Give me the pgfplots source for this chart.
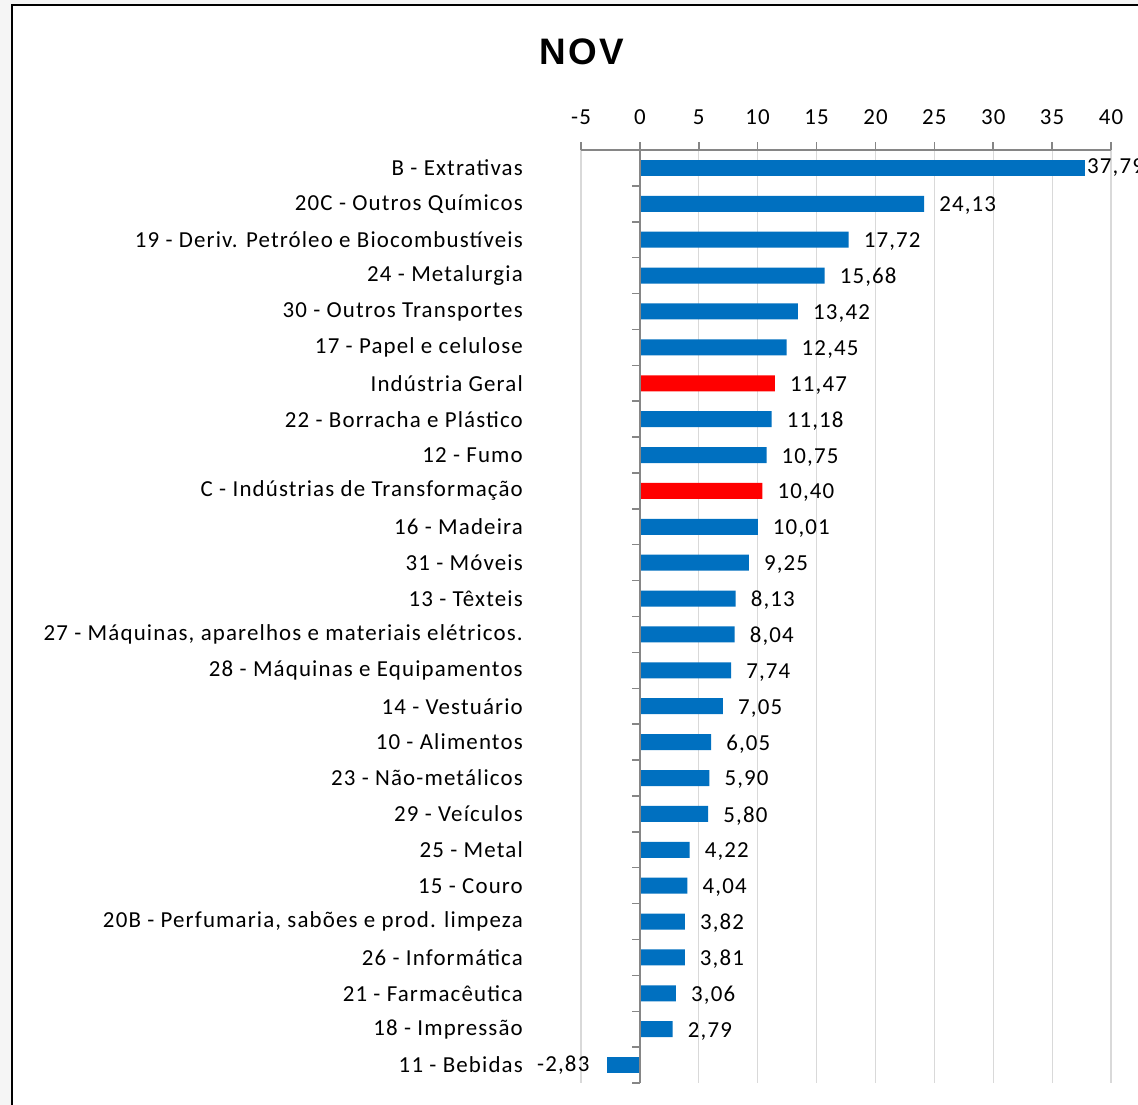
\documentclass[border=0pt]{standalone}
\usepackage{fontspec}
\setmainfont{Carlito}
\newfontfamily\titlefont{Liberation Sans}[LetterSpace=7]
\usepackage{pgfplots}
\usepackage{pgfplotstable}
\pgfplotsset{compat=1.18}
\definecolor{barblue}{HTML}{0070C0}
\definecolor{barred}{HTML}{FF0000}
\definecolor{axgray}{HTML}{868686}
\definecolor{gridgray}{HTML}{D9D9D9}

\pgfplotstableread{
y x lab
1 24.13 24,13
2 17.72 17,72
3 15.68 15,68
4 13.42 13,42
5 12.45 12,45
7 11.18 11,18
8 10.75 10,75
10 10.01 10,01
11 9.25 9,25
12 8.13 8,13
13 8.04 8,04
14 7.74 7,74
15 7.05 7,05
16 6.05 6,05
17 5.90 5,90
18 5.80 5,80
19 4.22 4,22
20 4.04 4,04
21 3.82 3,82
22 3.81 3,81
23 3.06 3,06
24 2.79 2,79
}\bluedata

\pgfplotstableread{
y x lab
6 11.47 11,47
9 10.40 10,40
}\reddata

\pgfplotstableread{
y x lab
0 37.79 37,79
}\firstdata

\pgfplotstableread{
y x lab
25 -2.83 -2,83
}\lastdata

\newcommand{\lblfont}{\fontsize{23}{27}\selectfont\addfontfeatures{LetterSpace=5}}

\begin{document}
\begin{tikzpicture}
\path[use as bounding box] (0,0) rectangle (1138bp,-1105bp);
\begin{scope}
\clip (0,0) rectangle (1138bp,-1105bp);
\fill[black!4] (0,0) rectangle (1138bp,-1105bp);
\draw[fill=white, line width=2bp] (12bp,-5bp) rectangle (1170bp,-1140bp);
\node[font=\titlefont\fontsize{37}{42}\selectfont\bfseries] at (582bp,-52bp) {NOV};
\begin{axis}[
  at={(581bp,-150bp)}, anchor=north west,
  scale only axis, width=530bp, height=933bp,
  xmin=-5, xmax=40, ymin=-0.5, ymax=25.5, y dir=reverse,
  axis x line*=top,
  axis y line*=left,
  y axis line style={draw=none},
  x axis line style={axgray, line width=1.5bp},
  xtick={-5,0,...,40},
  xtick style={axgray, line width=1.5bp},
  tick align=outside,
  major tick length=8bp,
  xmajorgrids,
  grid style={gridgray, line width=1.2bp},
  xticklabel style={font=\lblfont, inner sep=0pt, yshift=17bp},
  /pgf/number format/assume math mode=true,
  ytick={0,...,25},
  ytick style={draw=none},
  yticklabels={
    B - Extrativas,
    20C - Outros Químicos,
    19 - Deriv. Petróleo e Biocombustíveis,
    24 - Metalurgia,
    30 - Outros Transportes,
    17 - Papel e celulose,
    Indústria Geral,
    22 - Borracha e Plástico,
    12 - Fumo,
    C - Indústrias de Transformação,
    16 - Madeira,
    31 - Móveis,
    13 - Têxteis,
    {27 - Máquinas, aparelhos e materiais elétricos.},
    28 - Máquinas e Equipamentos,
    14 - Vestuário,
    10 - Alimentos,
    23 - Não-metálicos,
    29 - Veículos,
    25 - Metal,
    15 - Couro,
    {20B - Perfumaria, sabões e prod. limpeza},
    26 - Informática,
    21 - Farmacêutica,
    18 - Impressão,
    11 - Bebidas},
  yticklabel style={font=\lblfont, anchor=east, inner sep=0pt, xshift=-50bp},
  xbar, bar width=16bp, bar shift=0pt,
  point meta=explicit symbolic,
  nodes near coords,
  clip=false,
]
\addplot[fill=barblue, draw=none, nodes near coords style={anchor=west, inner sep=0pt, xshift=15bp, yshift=-2bp, font=\lblfont}]
  table[x=x, y=y, meta=lab] {\bluedata};
\addplot[fill=barred, draw=none, nodes near coords style={anchor=west, inner sep=0pt, xshift=15bp, yshift=-2bp, font=\lblfont}]
  table[x=x, y=y, meta=lab] {\reddata};
\addplot[fill=barblue, draw=none, nodes near coords style={anchor=west, inner sep=0pt, xshift=2bp, font=\lblfont}]
  table[x=x, y=y, meta=lab] {\firstdata};
\addplot[fill=barblue, draw=none, nodes near coords style={anchor=east, inner sep=0pt, xshift=-17bp, font=\lblfont}]
  table[x=x, y=y, meta=lab] {\lastdata};
\draw[axgray, line width=1.5bp] (axis cs:0,-0.5) -- (axis cs:0,25.5);
\pgfplotsinvokeforeach{-0.5,0.5,...,25.5}{
  \draw[axgray, line width=1.5bp] (axis cs:0,#1) -- ([xshift=-8bp]axis cs:0,#1);
}
\end{axis}
\end{scope}
\end{tikzpicture}
\end{document}
